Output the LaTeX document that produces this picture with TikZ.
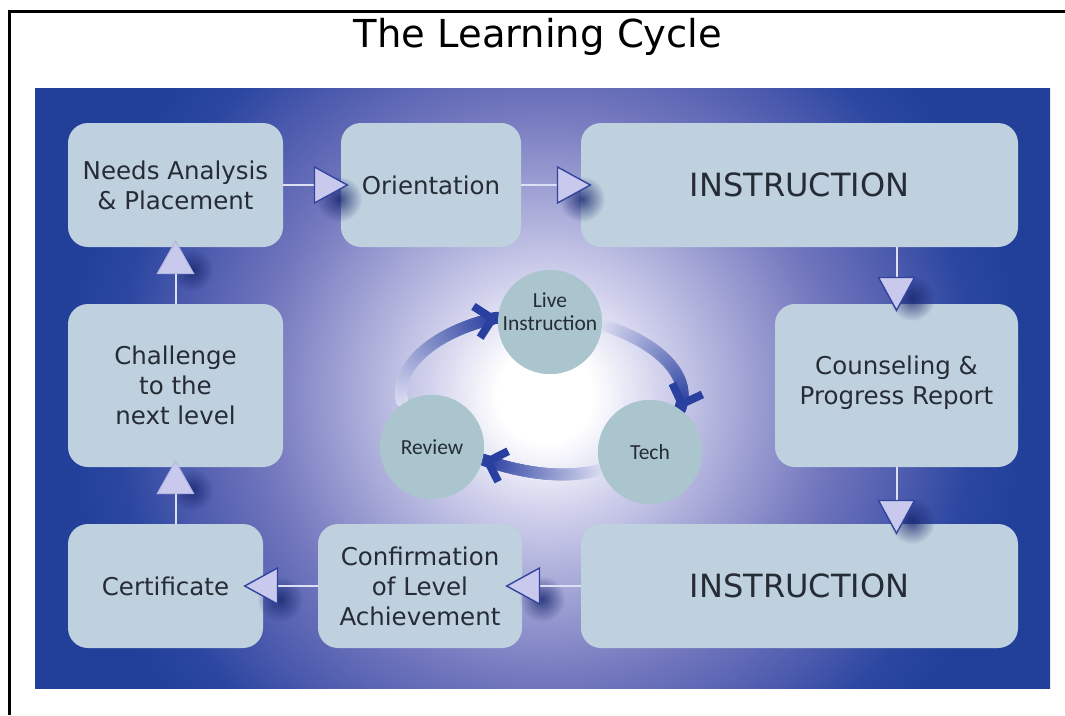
\documentclass[tikz,border=0pt]{standalone}
\usepackage{fontspec}
\setmainfont{DejaVu Sans}
\newfontfamily\circfont{Carlito}
\usetikzlibrary{arrows.meta,fadings,calc,decorations.markings}
\definecolor{paneldark}{HTML}{22409A}
\definecolor{glowa}{HTML}{D2D2ED}
\definecolor{glowb}{HTML}{A6A8D7}
\definecolor{glowc}{HTML}{7478BE}
\definecolor{glowd}{HTML}{4B5AAD}
\definecolor{glowe}{HTML}{2A46A0}
\definecolor{boxfill}{HTML}{BFD0DE}
\definecolor{boxtext}{HTML}{262C36}
\definecolor{circfill}{HTML}{AAC5CD}
\definecolor{trifill}{HTML}{C9C9EE}
\definecolor{triedge}{HTML}{33449E}
\definecolor{trilight}{HTML}{B4B6E2}
\definecolor{connline}{HTML}{DCE0F2}
\definecolor{shadowc}{HTML}{16266E}
\definecolor{banddark}{HTML}{2A40A0}
\definecolor{bandlight}{HTML}{E2E2F5}
\pgfdeclareradialshading{bgglow}{\pgfpointorigin}{color(0bp)=(white); color(2bp)=(white); color(4.8bp)=(glowa); color(8bp)=(glowb); color(11.8bp)=(glowc); color(15.5bp)=(glowd); color(18bp)=(glowe); color(20bp)=(paneldark); color(50bp)=(paneldark)}
\pgfdeclareradialshading{softblobshade}{\pgfpointorigin}{color(0bp)=(white); color(25bp)=(black); color(50bp)=(black)}
\pgfdeclarefading{softblob}{\pgfuseshading{softblobshade}}
\begin{document}
\begin{tikzpicture}[x=1pt,y=-1pt,
  box/.style={fill=boxfill, rounded corners=20pt, text=boxtext, align=center,
    font=\fontsize{24.5}{30}\selectfont, inner sep=0pt},
  bigtext/.style={font=\fontsize{32}{38}\selectfont},
  circ/.style={circle, fill=circfill, minimum size=104pt, inner sep=0pt},
  circtext/.style={text=boxtext, align=center, font=\circfont\fontsize{21.5}{23}\selectfont, inner sep=0pt},
  conn/.style={draw=connline, line width=2pt,
    -{Triangle[length=35pt, width=38pt, line width=1.4pt, color=triedge, fill=trifill]}},
  connl/.style={draw=connline, line width=2pt,
    -{Triangle[length=34pt, width=38pt, line width=1pt, color=trilight, fill=trifill]}},
  shadowblob/.style={fill=shadowc, path fading=softblob, fill opacity=0.8},
  bandgrad/.style={postaction={decorate, decoration={markings,
     mark=between positions 3pt and 1 step 1.2pt with {%
        \pgfmathsetmacro\bandpct{min(100,100*(\pgfkeysvalueof{/pgf/decoration/mark info/distance from start})/(\pgfdecoratedpathlength))}%
        \fill[banddark!\bandpct!bandlight] (0,0) circle (6pt);}}}},
  bandhead/.style={postaction={decorate, decoration={markings,
     mark=at position 0.995 with {\draw[banddark, line width=8pt, line join=miter] (-21,-16) -- (-5,0) -- (-21,16);}}}}
]
\useasboundingbox (0,0) rectangle (1065,715);
\fill[white] (0,0) rectangle (1065,715);
% frame
\draw[line width=3pt] (9.5,715) -- (9.5,11) -- (1065,11);
% title
\node[anchor=base, font=\fontsize{38.5}{44}\selectfont] (title) at (538,47) {The Learning Cycle};
% panel with glow
\begin{scope}
  \clip (35,88) rectangle (1050,688);
  \shade[shading=bgglow] (545,395) circle (600);
\end{scope}
% boxes
\node[box, minimum width=215pt, minimum height=124pt] (needs) at (175.5,185) {Needs Analysis\\\& Placement};
\node[box, minimum width=180pt, minimum height=124pt] (orient) at (431,185) {Orientation};
\node[box, bigtext, minimum width=437pt, minimum height=124pt] (instr) at (799.5,185) {INSTRUCTION};
\node[box, minimum width=215pt, minimum height=163pt] (chall) at (175.5,385.5) {Challenge\\to the\\next level};
\node[box, minimum width=243pt, minimum height=163pt] (counsel) at (896.5,385.5) {Counseling \&\\Progress Report\\[-20pt]};
\node[box, minimum width=195pt, minimum height=124pt] (cert) at (165.5,586) {Certificate};
\node[box, minimum width=204pt, minimum height=124pt] (confirm) at (420,586) {Confirmation\\of Level\\Achievement};
\node[box, bigtext, minimum width=437pt, minimum height=124pt] (instr2) at (799.5,586) {INSTRUCTION};
% shadows of connector heads
\fill[shadowblob] (339,199) circle (23);
\fill[shadowblob] (582,199) circle (23);
\fill[shadowblob] (912,298) circle (23);
\fill[shadowblob] (912,521) circle (23);
\fill[shadowblob] (542,599) circle (23);
\fill[shadowblob] (280,599) circle (23);
\fill[shadowblob] (192,490) circle (21);
\fill[shadowblob] (192,270) circle (21);
% connectors
\draw[conn, shorten >=-8pt] (needs.east) -- (orient.west);
\draw[conn, shorten >=-11pt] (orient.east) -- (instr.west);
\draw[conn, shorten >=-8pt] (counsel.north |- instr.south) -- (counsel.north);
\draw[conn, shorten >=-11pt] (counsel.south) -- (counsel.south |- instr2.north);
\draw[conn, shorten >=-17pt] (instr2.west) -- (confirm.east);
\draw[conn, shorten >=-20pt] (confirm.west) -- (cert.east);
\draw[connl, shorten >=-7pt] (chall.south |- cert.north) -- (chall.south);
\draw[connl, shorten >=-7pt] (chall.north) -- (needs.south);
% central cycle
\node[circ] (live) at (550,322) {};
\node[circ] (tech) at (650,452) {};
\node[circ] (review) at (432,447) {};
\path[bandgrad] (review.124) .. controls (392,368) and (434,331) .. (live.175);
\path[bandgrad] (live.-3) .. controls (657,342) and (693,375) .. (tech.55);
\path[bandgrad] (tech.200) .. controls (560,480) and (520,472) .. (review.-14);
\node[circ] (live2) at (live) {};
\node[circ] (tech2) at (tech) {};
\node[circ] (review2) at (review) {};
\node[circtext] (livelab) at ($(live)+(0,-10)$) {Live\\Instruction};
\node[circtext] (techlab) at (tech) {Tech};
\node[circtext] (reviewlab) at (review) {Review};
\path[bandhead] (review.124) .. controls (392,368) and (434,331) .. (live.175);
\path[bandhead] (live.-3) .. controls (657,342) and (693,375) .. (tech.55);
\path[bandhead] (tech.200) .. controls (560,480) and (520,472) .. (review.-14);
\end{tikzpicture}
\end{document}
